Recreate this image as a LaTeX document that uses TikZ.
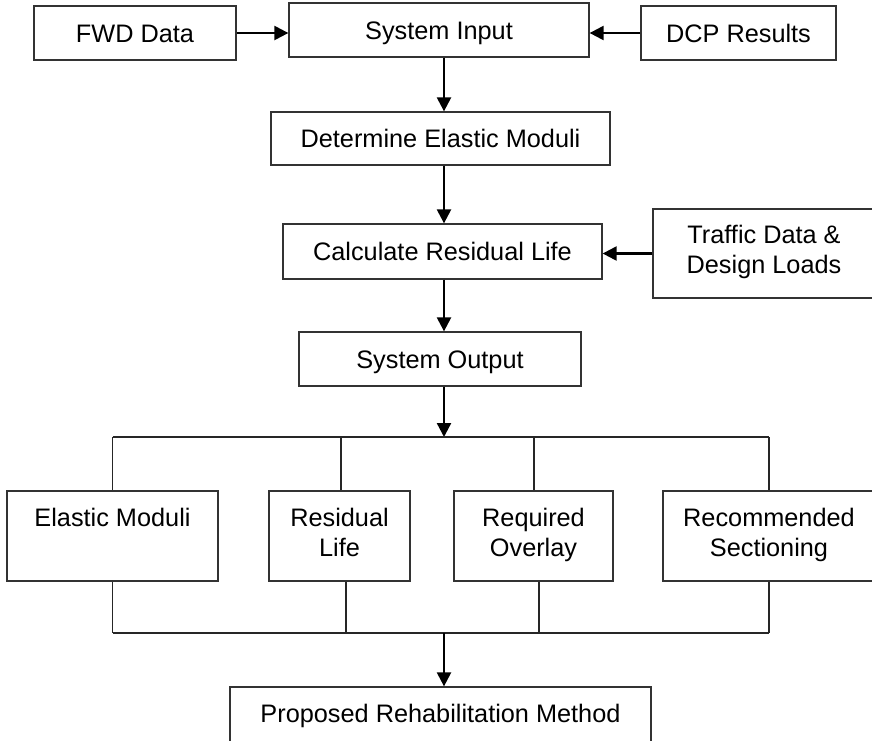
\documentclass[tikz,border=0pt]{standalone}
\usepackage{fontspec}
\setmainfont{Liberation Sans}
\usetikzlibrary{arrows.meta}
\tikzset{
  x=1pt, y=-1pt,
  box/.style={draw=black!80, line width=1.3pt, inner sep=0pt, align=center,
    font=\fontsize{25.3pt}{30pt}\selectfont, text height=18pt, text depth=0pt},
  twobox/.style={box, text height=48pt, text depth=8pt},
  flow/.style={line width=2.3pt, -{Triangle[width=14pt,length=14pt]}},
  link/.style={draw=black!85, line width=1.3pt},
}
\begin{document}
\begin{tikzpicture}
\useasboundingbox (0,0) rectangle (872,740);
% top row
\node[box, minimum width=202pt, minimum height=54pt] (fwd) at (135,33) {FWD Data};
\node[box, minimum width=300pt, minimum height=54pt] (sysin) at (439,30) {System Input};
\node[box, minimum width=195pt, minimum height=54pt] (dcp) at (738.5,33) {DCP Results};
% middle column
\node[box, minimum width=339pt, minimum height=53pt] (det) at (440.5,138.5) {Determine Elastic Moduli};
\node[box, minimum width=319pt, minimum height=55pt] (calc) at (442.5,251.5) {Calculate Residual Life};
\node[twobox, minimum width=222pt, minimum height=89pt] (traffic) at (764,253.5) {Traffic Data \&\\Design Loads};
\node[box, minimum width=282pt, minimum height=54pt] (sysout) at (440,359) {System Output};
% bottom row
\node[box, text depth=38pt, minimum width=211pt, minimum height=90pt] (elastic) at (112.5,536) {Elastic Moduli};
\node[twobox, minimum width=141pt, minimum height=90pt] (residual) at (339.5,536) {Residual\\Life};
\node[twobox, minimum width=159pt, minimum height=90pt] (required) at (533.5,536) {Required\\Overlay};
\node[twobox, minimum width=212pt, minimum height=90pt] (recommended) at (769,536) {Recommended\\Sectioning};
\node[box, text depth=8pt, minimum width=421pt, minimum height=60pt] (proposed) at (440.5,717) {Proposed Rehabilitation Method};
% helper coordinates
\coordinate (ax) at (444,0);
\coordinate (split) at (444,437);
\coordinate (join) at (444,633);
% arrows
\draw[flow] (fwd.east) -- (fwd.east -| sysin.west);
\draw[flow] (dcp.west) -- (dcp.west -| sysin.east);
\draw[flow] (sysin.south -| ax) -- (det.north -| ax);
\draw[flow] (det.south -| ax) -- (calc.north -| ax);
\draw[flow] (traffic.west) -- (traffic.west -| calc.east);
\draw[flow] (calc.south -| ax) -- (sysout.north -| ax);
\draw[flow] (sysout.south -| ax) -- (split);
% branch lines
\draw[link] (split -| elastic.north) -- (split -| recommended.north);
\draw[link] (split -| elastic.north) -- (elastic.north);
\draw[link] ([xshift=1.5pt]split -| residual.north) -- ([xshift=1.5pt]residual.north);
\draw[link] ([xshift=0.5pt]split -| required.north) -- ([xshift=0.5pt]required.north);
\draw[link] (split -| recommended.north) -- (recommended.north);
% join lines
\draw[link] (elastic.south) -- (join -| elastic.south);
\draw[link] ([xshift=6.5pt]residual.south) -- ([xshift=6.5pt]join -| residual.south);
\draw[link] ([xshift=5.5pt]required.south) -- ([xshift=5.5pt]join -| required.south);
\draw[link] (recommended.south) -- (join -| recommended.south);
\draw[link] (join -| elastic.south) -- (join -| recommended.south);
\draw[flow] (join) -- (proposed.north -| ax);
\end{tikzpicture}
\end{document}
